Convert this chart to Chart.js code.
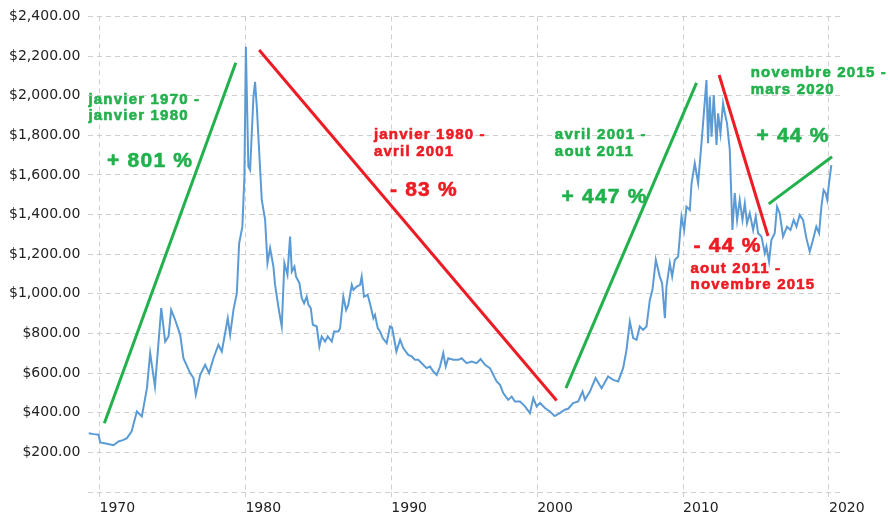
<!DOCTYPE html>
<html>
<head>
<meta charset="utf-8">
<script src="https://cdn.jsdelivr.net/npm/chart.js@4"></script>
<style>
    body { margin: 0; background: #fff; }
    #wrap { width: 890px; height: 519px; }
</style>
</head>
<body>
<div id="wrap"><canvas id="gold-chart"></canvas></div>
<script>
// Gold price (USD, inflation adjusted)
const goldYears = [
    1969.25, 1969.6, 1969.93, 1970.05, 1970.5, 1970.96, 1971.3, 1971.6, 1971.88, 1972.2,
    1972.56, 1972.9, 1973.25, 1973.47, 1973.8, 1974.23, 1974.5, 1974.73, 1974.91, 1975.18,
    1975.53, 1975.75, 1976.21, 1976.44, 1976.6, 1976.9, 1977.24, 1977.51, 1977.81, 1978.15,
    1978.38, 1978.79, 1978.95, 1979.18, 1979.41, 1979.57, 1979.79, 1979.93, 1980.03, 1980.2,
    1980.32, 1980.55, 1980.66, 1980.78, 1980.9, 1981.12, 1981.35, 1981.51, 1981.69, 1981.92,
    1982.03, 1982.22, 1982.33, 1982.49, 1982.67, 1982.88, 1983.06, 1983.18, 1983.36, 1983.47,
    1983.7, 1983.86, 1984.02, 1984.2, 1984.32, 1984.48, 1984.62, 1984.89, 1985.07, 1985.23,
    1985.46, 1985.64, 1985.92, 1986.08, 1986.37, 1986.49, 1986.71, 1986.9, 1987.05, 1987.29,
    1987.4, 1987.63, 1987.86, 1987.97, 1988.13, 1988.38, 1988.59, 1988.77, 1988.88, 1989.07,
    1989.23, 1989.41, 1989.68, 1989.91, 1990.05, 1990.35, 1990.6, 1990.82, 1991.16, 1991.4,
    1991.62, 1991.85, 1992.08, 1992.42, 1992.65, 1992.88, 1993.11, 1993.34, 1993.56, 1993.73,
    1993.9, 1994.25, 1994.59, 1994.82, 1995.16, 1995.5, 1995.85, 1996.12, 1996.42, 1996.76,
    1996.99, 1997.22, 1997.45, 1997.67, 1998.01, 1998.25, 1998.47, 1998.82, 1999.16, 1999.5,
    1999.73, 1999.96, 2000.19, 2000.53, 2000.87, 2001.2, 2001.55, 2001.89, 2002.12, 2002.46,
    2002.81, 2003.11, 2003.27, 2003.61, 2004.0, 2004.41, 2004.86, 2005.21, 2005.55, 2005.89,
    2006.12, 2006.35, 2006.58, 2006.81, 2007.03, 2007.26, 2007.49, 2007.72, 2007.9, 2008.13,
    2008.4, 2008.56, 2008.75, 2008.86, 2009.09, 2009.25, 2009.43, 2009.66, 2009.89, 2010.07,
    2010.23, 2010.46, 2010.58, 2010.8, 2011.03, 2011.26, 2011.44, 2011.6, 2011.71, 2011.83,
    2011.95, 2012.1, 2012.29, 2012.4, 2012.56, 2012.74, 2012.86, 2013.01, 2013.2, 2013.38,
    2013.54, 2013.7, 2013.88, 2014.07, 2014.23, 2014.38, 2014.57, 2014.8, 2014.98, 2015.14,
    2015.37, 2015.6, 2015.71, 2015.89, 2016.05, 2016.28, 2016.44, 2016.62, 2016.85, 2017.12,
    2017.36, 2017.58, 2017.77, 2017.99, 2018.22, 2018.45, 2018.68, 2018.9, 2019.13, 2019.32,
    2019.48, 2019.63, 2019.77, 2019.88, 2020.0, 2020.16
];
const goldPrices = [
    297, 292, 289, 250, 243, 236, 255, 262, 272, 306,
    406, 381, 524, 701, 532, 928, 759, 785, 919, 869,
    793, 675, 600, 575, 491, 591, 642, 600, 675, 743,
    709, 877, 793, 919, 1003, 1255, 1339, 1591, 2247, 1642,
    1625, 1995, 2070, 1944, 1776, 1474, 1373, 1155, 1230, 1137,
    1045, 953, 902, 835, 1155, 1096, 1289, 1112, 1137, 1087,
    1054, 978, 953, 986, 944, 928, 844, 835, 734, 785,
    759, 785, 759, 810, 810, 827, 986, 919, 944, 1045,
    1020, 1037, 1045, 1087, 986, 995, 936, 877, 894, 827,
    810, 777, 751, 835, 830, 709, 768, 726, 692, 684,
    667, 667, 650, 625, 633, 608, 591, 633, 701, 633,
    675, 667, 667, 675, 650, 658, 650, 671, 642, 625,
    591, 558, 541, 499, 465, 482, 457, 457, 432, 398,
    474, 432, 449, 424, 406, 383, 398, 415, 420, 449,
    457, 507, 465, 507, 575, 524, 583, 566, 558, 625,
    717, 860, 777, 768, 835, 818, 835, 969, 1020, 1171,
    1087, 1054, 877, 1037, 1155, 1087, 1171, 1188, 1390, 1322,
    1440, 1423, 1558, 1659, 1558, 1760, 1927, 2079, 1760, 1995,
    1793, 2003, 1751, 1911, 1810, 1961, 1911, 1860, 1726, 1322,
    1508, 1373, 1474, 1373, 1457, 1356, 1407, 1322, 1390, 1306,
    1289, 1205, 1238, 1163, 1272, 1306, 1440, 1407, 1289, 1339,
    1322, 1373, 1339, 1398, 1373, 1281, 1213, 1272, 1339, 1306,
    1440, 1524, 1508, 1474, 1558, 1650
];

const xTicks = [1970, 1980, 1990, 2000, 2010, 2020];

// hand-drawn trend lines: [start year, start value, end year, end value]
const trendUp1 = [1970.33, 347, 1979.34, 2166];
const trendDown1 = [1980.94, 2230, 2001.33, 462];
const trendUp2 = [2001.97, 524, 2010.92, 2065];
const trendDown2 = [2012.47, 2104, 2015.82, 1292];
const trendUp3 = [2015.87, 1454, 2020.21, 1692];

const GREEN = '#22b14c';
const RED = '#ed1c24';

// text notes, anchored in data coordinates
const notes = [
    { color: GREEN, lines: ['janvier 1970 -', 'janvier 1980'], x: 1969.24, y: 1960, pct: '+ 801 %', px: 1970.52, py: 1642 },
    { color: RED, lines: ['janvier 1980 -', 'avril 2001'], x: 1988.81, y: 1780, pct: '- 83 %', px: 1989.91, py: 1494 },
    { color: GREEN, lines: ['avril 2001 -', 'aout 2011'], x: 2001.21, y: 1780, pct: '+ 447 %', px: 2001.67, py: 1459 },
    { color: GREEN, lines: ['novembre 2015 -', 'mars 2020'], x: 2014.63, y: 2092, pct: '+ 44 %', px: 2015.03, py: 1768 },
    { color: RED, lines: ['aout 2011 -', 'novembre 2015'], x: 2010.51, y: 1107, pct: '- 44 %', px: 2010.72, py: 1213 }
];

function trendSet(t, color) {
    return {
        data: [{ x: t[0], y: t[1] }, { x: t[2], y: t[3] }],
        borderColor: color,
        borderWidth: 3,
        pointRadius: 0,
        order: 0
    };
}

const notesPlugin = {
    id: 'notes',
    afterDatasetsDraw(chart) {
        const ctx = chart.ctx;
        const xs = chart.scales.x, ys = chart.scales.y;
        ctx.save();
        ctx.textAlign = 'left';
        ctx.textBaseline = 'alphabetic';
        ctx.letterSpacing = '1.2px';
        ctx.lineWidth = 0.6;
        ctx.lineJoin = 'round';
        notes.forEach(n => {
            ctx.fillStyle = n.color;
            ctx.strokeStyle = n.color;
            ctx.font = 'bold 15px "Liberation Sans", Arial, sans-serif';
            const x0 = xs.getPixelForValue(n.x);
            const y0 = ys.getPixelForValue(n.y);
            n.lines.forEach((t, i) => {
                ctx.fillText(t, x0, y0 + i * 16.5);
                ctx.strokeText(t, x0, y0 + i * 16.5);
            });
            ctx.font = 'bold 21px "Liberation Sans", Arial, sans-serif';
            const px = xs.getPixelForValue(n.px), py = ys.getPixelForValue(n.py);
            ctx.fillText(n.pct, px, py);
            ctx.strokeText(n.pct, px, py);
        });
        ctx.restore();
    }
};

new Chart(document.getElementById('gold-chart'), {
    type: 'line',
    data: {
        datasets: [
            {
                data: goldYears.map((x, i) => ({ x: x, y: goldPrices[i] })),
                borderColor: '#5b9bd5',
                borderWidth: 2,
                pointRadius: 0,
                tension: 0,
                order: 1
            },
            trendSet(trendUp1, GREEN),
            trendSet(trendDown1, RED),
            trendSet(trendUp2, GREEN),
            trendSet(trendDown2, RED),
            trendSet(trendUp3, GREEN)
        ]
    },
    options: {
        responsive: true,
        maintainAspectRatio: false,
        animation: false,
        layout: {
            padding: { top: 16, right: 47, left: 0, bottom: 0 }
        },
        plugins: {
            legend: { display: false },
            tooltip: { enabled: false }
        },
        scales: {
            x: {
                type: 'linear',
                min: 1969.23,
                max: 2020.96,
                afterBuildTicks: scale => {
                    scale.ticks = xTicks.map(v => ({ value: v }));
                },
                afterFit: scale => { scale.height = 27; },
                grid: {
                    color: '#cfcfcf',
                    tickLength: 8,
                    tickColor: '#cfcfcf',
                    tickBorderDash: [5, 4]
                },
                border: { display: false, dash: [5, 4] },
                ticks: {
                    align: 'start',
                    padding: 0,
                    color: '#222',
                    font: { family: 'DejaVu Sans', size: 14 },
                    callback: v => String(v)
                }
            },
            y: {
                min: 0,
                max: 2400,
                afterFit: scale => { scale.width = 88.3; },
                grid: {
                    color: '#cfcfcf',
                    drawTicks: false
                },
                border: { display: false, dash: [5, 4] },
                ticks: {
                    stepSize: 200,
                    padding: 8,
                    color: '#222',
                    font: { family: 'DejaVu Sans', size: 14 },
                    callback: v => v === 0 ? '' : '$' + v.toLocaleString('en-US', { minimumFractionDigits: 2 })
                }
            }
        }
    },
    plugins: [notesPlugin]
});
</script>
</body>
</html>
